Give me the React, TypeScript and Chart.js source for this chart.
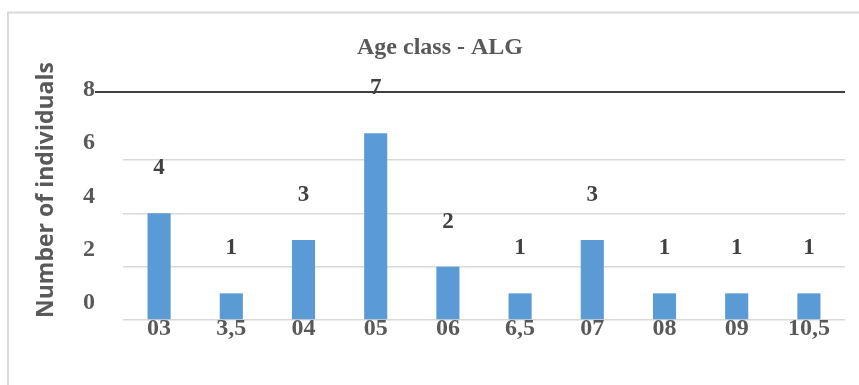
import React, { useEffect, useRef } from "react";
import { Chart, registerables } from "chart.js";

Chart.register(...registerables);

const categories = ["03", "3,5", "04", "05", "06", "6,5", "07", "08", "09", "10,5"];
const counts = [4, 1, 3, 7, 2, 1, 3, 1, 1, 1];
const yTicks = [0, 2, 4, 6, 8];

const TITLE = "Age class - ALG";
const Y_TITLE = "Number of individuals";

const SERIF = "'Liberation Serif', 'Times New Roman', serif";
const SANS = "'Open Sans', 'Noto Sans', sans-serif";
const BAR_BLUE = "#5b9bd5";
const GRID = "#d9d9d9";
const TEXT = "#595959";
const DARK = "#404040";

// frame, title, rotated axis title, top rule and value labels
const decorations = {
  id: "decorations",
  beforeDraw(chart: any) {
    const { ctx } = chart;
    ctx.save();
    ctx.strokeStyle = GRID;
    ctx.lineWidth = 2;
    ctx.beginPath();
    ctx.moveTo(8, chart.height + 5);
    ctx.lineTo(8, 12.5);
    ctx.lineTo(chart.width + 5, 12.5);
    ctx.stroke();
    ctx.restore();
  },
  afterDatasetsDraw(chart: any) {
    const { ctx, chartArea } = chart;
    ctx.save();
    // top rule
    ctx.strokeStyle = DARK;
    ctx.lineWidth = 2;
    ctx.beginPath();
    ctx.moveTo(chartArea.left - 28, chartArea.top);
    ctx.lineTo(chartArea.right, chartArea.top);
    ctx.stroke();

    // title
    ctx.fillStyle = TEXT;
    ctx.font = `bold 24px ${SERIF}`;
    ctx.textAlign = "center";
    ctx.textBaseline = "middle";
    ctx.fillText(TITLE, 440, 48);

    // y axis title
    ctx.save();
    ctx.translate(46, 190);
    ctx.rotate(-Math.PI / 2);
    ctx.font = `bold 23px ${SANS}`;
    ctx.fillStyle = TEXT;
    ctx.fillText(Y_TITLE, 0, 0);
    ctx.restore();

    // value labels
    const meta = chart.getDatasetMeta(0);
    ctx.font = `bold 23px ${SERIF}`;
    ctx.fillStyle = DARK;
    meta.data.forEach((bar: any, i: number) => {
      ctx.fillText(String(counts[i]), bar.x, bar.y - 45);
    });
    ctx.restore();
  },
};

export default function App() {
  const canvasRef = useRef<HTMLCanvasElement | null>(null);

  useEffect(() => {
    if (!canvasRef.current) return;
    const chart = new Chart(canvasRef.current, {
      type: "bar",
      data: {
        labels: categories,
        datasets: [
          {
            data: counts,
            backgroundColor: BAR_BLUE,
            barPercentage: 0.32,
            categoryPercentage: 1,
          },
        ],
      },
      options: {
        responsive: false,
        animation: false,
        devicePixelRatio: 1,
        layout: { padding: { left: 0, right: 14, top: 92, bottom: 0 } },
        plugins: {
          legend: { display: false },
          title: { display: false },
          tooltip: { enabled: false },
        },
        scales: {
          x: {
            grid: { display: false, drawTicks: false },
            border: { display: false },
            ticks: {
              color: TEXT,
              font: { family: SERIF, size: 24, weight: "bold", lineHeight: 1.2 },
              padding: -6,
              maxRotation: 0,
              autoSkip: false,
            },
            afterFit(scale: any) {
              scale.height = 65;
            },
          },
          y: {
            min: 0,
            max: 8.55,
            grid: {
              drawTicks: false,
              color: (ctx: any) => (ctx.tick && ctx.tick.value >= 8 ? "rgba(0,0,0,0)" : GRID),
              lineWidth: 1.5,
            },
            border: { display: false },
            ticks: {
              stepSize: 2,
              includeBounds: false,
              color: TEXT,
              padding: 28,
              labelOffset: -17,
              font: { family: SERIF, size: 24, weight: "bold" },
              callback: (v: any) => (yTicks.includes(Number(v)) ? String(v) : ""),
            },
            afterFit(scale: any) {
              scale.width = 123;
            },
          },
        },
      },
      plugins: [decorations],
    });
    return () => chart.destroy();
  }, []);

  return (
    <div style={{ position: "fixed", left: 0, top: 0, width: 859, height: 385, background: "#fff" }}>
      <canvas ref={canvasRef} width={859} height={385} />
    </div>
  );
}
